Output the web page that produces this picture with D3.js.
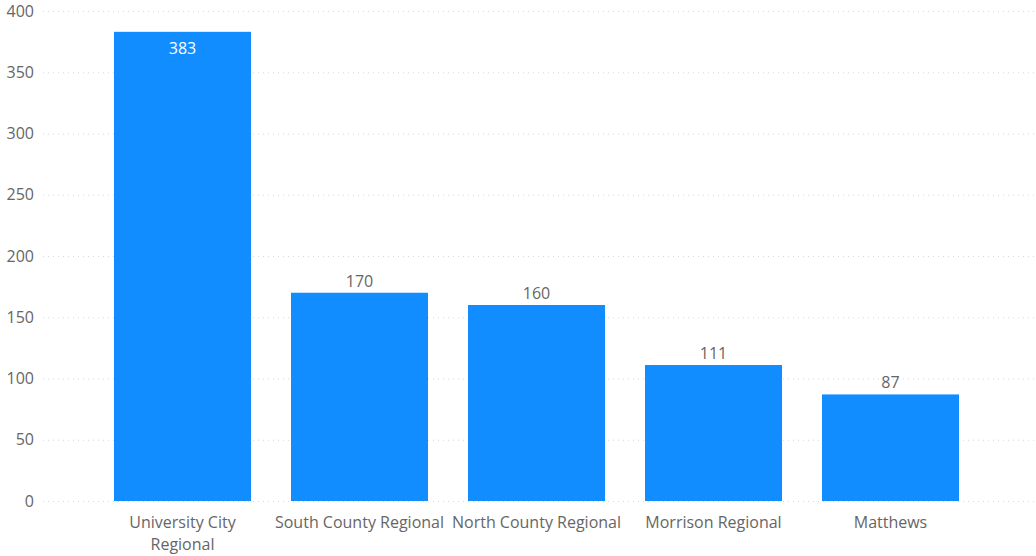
<!DOCTYPE html>
<html>
<head>
<meta charset="utf-8">
<script src="https://cdn.jsdelivr.net/npm/d3@7"></script>
<style>
  body { margin: 0; background: #fff; }
  svg { display: block; font-family: "Open Sans", "Noto Sans", sans-serif; }
</style>
</head>
<body>
<div id="chart"></div>
<script>
// Data
const branches = ["University City Regional", "South County Regional", "North County Regional", "Morrison Regional", "Matthews"];
const counts = [383, 170, 160, 111, 87];
const yTicks = [0, 50, 100, 150, 200, 250, 300, 350, 400];

const width = 1036, height = 556;
const plotTop = 11, plotBottom = 501, gridLeft = 43;

const svg = d3.select("#chart").append("svg")
    .attr("width", width)
    .attr("height", height);

const x = d3.scaleBand()
    .domain(branches)
    .range([74, 999])
    .padding(0.226);

const y = d3.scaleLinear()
    .domain([0, 400])
    .range([plotBottom, plotTop]);

// gridlines
svg.append("g").selectAll("line")
    .data(yTicks)
    .join("line")
    .attr("x1", gridLeft)
    .attr("x2", width)
    .attr("y1", d => y(d) + 0.5)
    .attr("y2", d => y(d) + 0.5)
    .attr("stroke", "#d6d6d6")
    .attr("stroke-dasharray", "1,4");

// y tick labels
svg.append("g").selectAll("text")
    .data(yTicks)
    .join("text")
    .attr("x", 34)
    .attr("y", d => y(d))
    .attr("dy", "0.35em")
    .attr("text-anchor", "end")
    .attr("fill", "#666666")
    .style("font-size", "16px")
    .text(d => d);

// bars
svg.append("g").selectAll("rect")
    .data(branches)
    .join("rect")
    .attr("x", d => x(d))
    .attr("y", (d, i) => y(counts[i]))
    .attr("width", x.bandwidth())
    .attr("height", (d, i) => y(0) - y(counts[i]))
    .attr("fill", "#118DFF");

// data labels: inside for tall bar, above otherwise
svg.append("g").selectAll("text")
    .data(branches)
    .join("text")
    .attr("x", d => x(d) + x.bandwidth() / 2)
    .attr("y", (d, i) => counts[i] > 300 ? y(counts[i]) + 22 : y(counts[i]) - 6)
    .attr("text-anchor", "middle")
    .attr("fill", (d, i) => counts[i] > 300 ? "#ffffff" : "#666666")
    .style("font-size", "16px")
    .text((d, i) => counts[i]);

// x category labels with wrapping
const xLabels = svg.append("g").selectAll("text")
    .data(branches)
    .join("text")
    .attr("x", d => x(d) + x.bandwidth() / 2)
    .attr("y", 528)
    .attr("text-anchor", "middle")
    .attr("fill", "#666666")
    .style("font-size", "16px");

xLabels.each(function(d) {
    const t = d3.select(this);
    const maxW = 171;
    const words = d.split(" ");
    let line = [];
    let lines = [];
    const probe = t.append("tspan");
    words.forEach(w => {
        const test = line.concat([w]).join(" ");
        probe.text(test);
        if (probe.node().getComputedTextLength() > maxW && line.length) {
            lines.push(line.join(" "));
            line = [w];
        } else {
            line.push(w);
        }
    });
    lines.push(line.join(" "));
    probe.remove();
    lines.forEach((l, i) => {
        t.append("tspan")
            .attr("x", x(d) + x.bandwidth() / 2)
            .attr("dy", i === 0 ? 0 : 22)
            .text(l);
    });
});
</script>
</body>
</html>
